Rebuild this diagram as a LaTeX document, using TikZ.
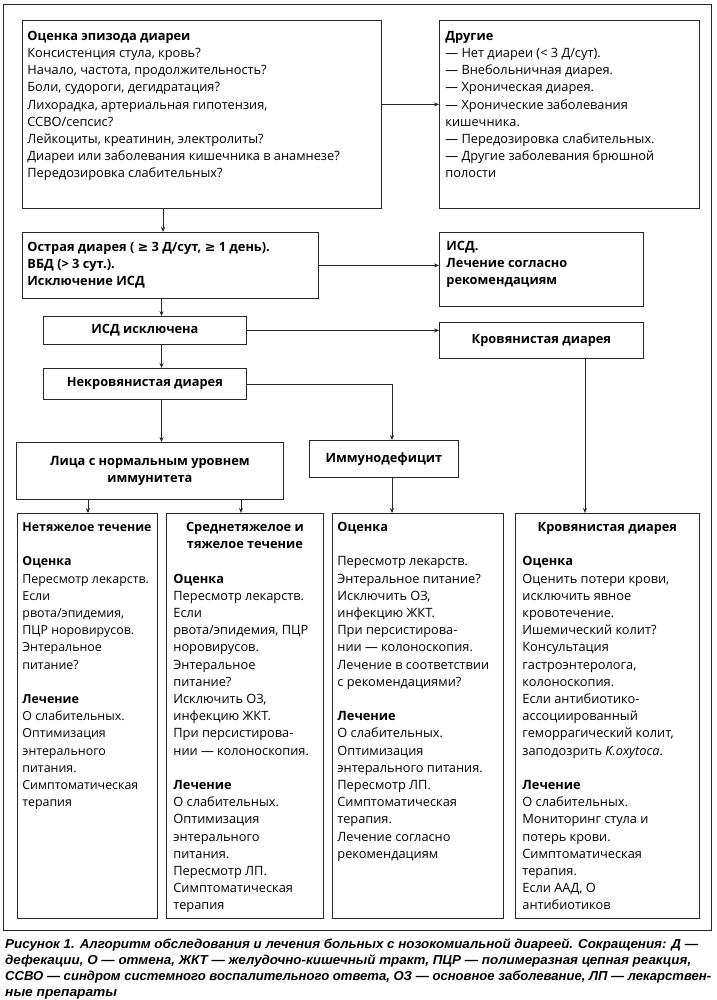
\documentclass[tikz,border=0pt]{standalone}
\usepackage{fontspec}
\usepackage{graphicx}
\setmainfont{Open Sans}
\newfontfamily\capfont{Liberation Sans}
\newfontfamily\symf{DejaVu Sans}
\usetikzlibrary{arrows.meta}
\newcommand\gesym{{\symf ≥}}
% #1 inner width, #2 height, #3 top gap, #4 content
\newcommand\tcell[4]{\parbox[t][#2pt][t]{#1pt}{\vspace*{#3pt}\raggedright\rule{0pt}{12pt}#4}}
\newcommand\capline[2]{\resizebox{#1pt}{\height}{#2}\\}
\tikzset{
  cell/.style={draw=black!85, line width=0.8pt, inner xsep=#1, inner ysep=0pt, anchor=north west},
  cell/.default=5pt,
  cbox/.style={draw=black!85, line width=0.8pt, inner sep=0pt, anchor=north west, align=center, font=\bodyfont\bfseries},
  arr/.style={-{Stealth[length=5pt,width=4pt]}, line width=0.7pt, draw=black!85},
  frame/.style={draw=black!85, line width=0.7pt}
}
\newcommand\bodyfont{\fontsize{12.8pt}{17.2pt}\selectfont}
\begin{document}
\begin{tikzpicture}[x=1pt,y=1pt, font=\bodyfont]
\useasboundingbox (0,0) rectangle (716,-1000);
\draw[frame] (3,-4) rectangle (711,-930);

\node[cell] (b1) at (22,-20) {\tcell{349}{188}{8}{%
\textbf{Оценка эпизода диареи}\\
Консистенция стула, кровь?\\
Начало, частота, продолжительность?\\
Боли, судороги, дегидратация?\\
Лихорадка, артериальная гипотензия,\\
ССВО/сепсис?\\
Лейкоциты, креатинин, электролиты?\\
Диареи или заболевания кишечника в анамнезе?\\
Передозировка слабительных?}};

\node[cell=6pt] (b2) at (439,-20) {\tcell{248}{188}{8}{%
\textbf{Другие}\\
— Нет диареи (< 3 Д/сут).\\
— Внебольничная диарея.\\
— Хроническая диарея.\\
— Хронические заболевания\\
кишечника.\\
— Передозировка слабительных.\\
— Другие заболевания брюшной\\
полости}};

\node[cell] (b3) at (22,-232) {\tcell{286}{66}{7}{\bfseries
Острая диарея ( \gesym{} 3 Д/сут, \gesym{} 1 день).\\
ВБД (> 3 сут.).\\
Исключение ИСД}};

\node[cell=7pt] (isd) at (439,-232) {\tcell{190}{74}{6}{\bfseries
ИСД.\\
Лечение согласно\\
рекомендациям}};

\node[cbox, minimum width=203pt, minimum height=28pt] (excl) at (43,-316) {ИСД исключена};
\node[cbox, minimum width=204pt, minimum height=36pt] (krov) at (439,-322) {Кровянистая диарея};
\node[cbox, minimum width=203pt, minimum height=31pt] (nekr) at (43,-368) {Некровянистая диарея};
\node[cbox, minimum width=267pt, minimum height=57pt] (lica) at (16,-442) {Лица с нормальным уровнем\\иммунитета};
\node[cbox, minimum width=149pt, minimum height=37pt] (immun) at (309,-440) {Иммунодефицит};

\node[cell] (bA) at (17,-513) {\tcell{130}{405}{6}{\fontsize{12.4pt}{17.2pt}\selectfont
\textbf{Нетяжелое~течение}\\[17.2pt]
\textbf{Оценка}\\
Пересмотр~лекарств.\\
Если\\
рвота/эпидемия,\\
ПЦР~норовирусов.\\
Энтеральное\\
питание?\\[17.2pt]
\textbf{Лечение}\\
О~слабительных.\\
Оптимизация\\
энтерального\\
питания.\\
Симптоматическая\\
терапия}};

\node[cell=7pt] (bB) at (166,-513) {\tcell{143}{405}{6}{%
{\centering\bfseries Среднетяжелое и\\ тяжелое течение\par}\vspace{17.2pt}
\textbf{Оценка}\\
Пересмотр лекарств.\\
Если\\
рвота/эпидемия, ПЦР\\
норовирусов.\\
Энтеральное\\
питание?\\
Исключить ОЗ,\\
инфекцию ЖКТ.\\
При персистирова-\\
нии — колоноскопия.\\[17.2pt]
\textbf{Лечение}\\
О слабительных.\\
Оптимизация\\
энтерального\\
питания.\\
Пересмотр ЛП.\\
Симптоматическая\\
терапия}};

\node[cell] (bC) at (332,-513) {\tcell{161}{405}{6}{%
\textbf{Оценка}\\[17.2pt]
Пересмотр лекарств.\\
Энтеральное питание?\\
Исключить ОЗ,\\
инфекцию ЖКТ.\\
При персистирова-\\
нии — колоноскопия.\\
Лечение в соответствии\\
с рекомендациями?\\[17.2pt]
\textbf{Лечение}\\
О слабительных.\\
Оптимизация\\
энтерального питания.\\
Пересмотр ЛП.\\
Симптоматическая\\
терапия.\\
Лечение согласно\\
рекомендациям}};

\node[cell=7pt] (bD) at (515,-513) {\tcell{170}{405}{6}{%
{\centering\bfseries Кровянистая диарея\par}\vspace{17.2pt}
\textbf{Оценка}\\
Оценить потери крови,\\
исключить явное\\
кровотечение.\\
Ишемический колит?\\
Консультация\\
гастроэнтеролога,\\
колоноскопия.\\
Если антибиотико-\\
ассоциированный\\
геморрагический колит,\\
заподозрить \textit{K.oxytoca}.\\[17.2pt]
\textbf{Лечение}\\
О слабительных.\\
Мониторинг стула и\\
потерь крови.\\
Симптоматическая\\
терапия.\\
Если ААД, О\\
антибиотиков}};

\coordinate (cA) at (161.5,0);
\coordinate (cB) at (392,0);
\coordinate (cC) at (585,0);
\coordinate (cD) at (88,0);
\coordinate (cE) at (241,0);

\draw[arr] ([yshift=10pt]b1.east) -- ([yshift=10pt]b2.west);
\draw[arr] ([xshift=141pt]b1.south west) -- ([xshift=141pt]b3.north west);
\draw[arr] (b3.east) -- (b3.east -| isd.west);
\draw[arr] (b3.south -| cA) -- (excl.north -| cA);
\draw[arr] (excl.east) -- (excl.east -| krov.west);
\draw[arr] (excl.south -| cA) -- (nekr.north -| cA);
\draw[arr] (nekr.south -| cA) -- (lica.north -| cA);
\draw[arr] (nekr.east) -| (immun.north -| cB);
\draw[arr] (lica.south -| cD) -- (bA.north -| cD);
\draw[arr] (lica.south -| cE) -- (bB.north -| cE);
\draw[arr] (immun.south -| cB) -- (bC.north -| cB);
\draw[arr] (krov.south -| cC) -- (bD.north -| cC);

\node[anchor=north west, inner sep=0pt, font=\capfont\bfseries\itshape\fontsize{13pt}{16.2pt}\selectfont] (cap) at (5,-937) {\parbox[t]{711pt}{\raggedright\rule{0pt}{11pt}%
\capline{693}{Рисунок 1. Алгоритм обследования и лечения больных с нозокомиальной диареей. Сокращения: Д —}
\capline{686}{дефекации, О — отмена, ЖКТ — желудочно-кишечный тракт, ПЦР — полимеразная цепная реакция,}
\capline{706}{ССВО — синдром системного воспалительного ответа, ОЗ — основное заболевание, ЛП — лекарствен-}
\resizebox{112pt}{\height}{ные препараты}}};
\end{tikzpicture}
\end{document}
